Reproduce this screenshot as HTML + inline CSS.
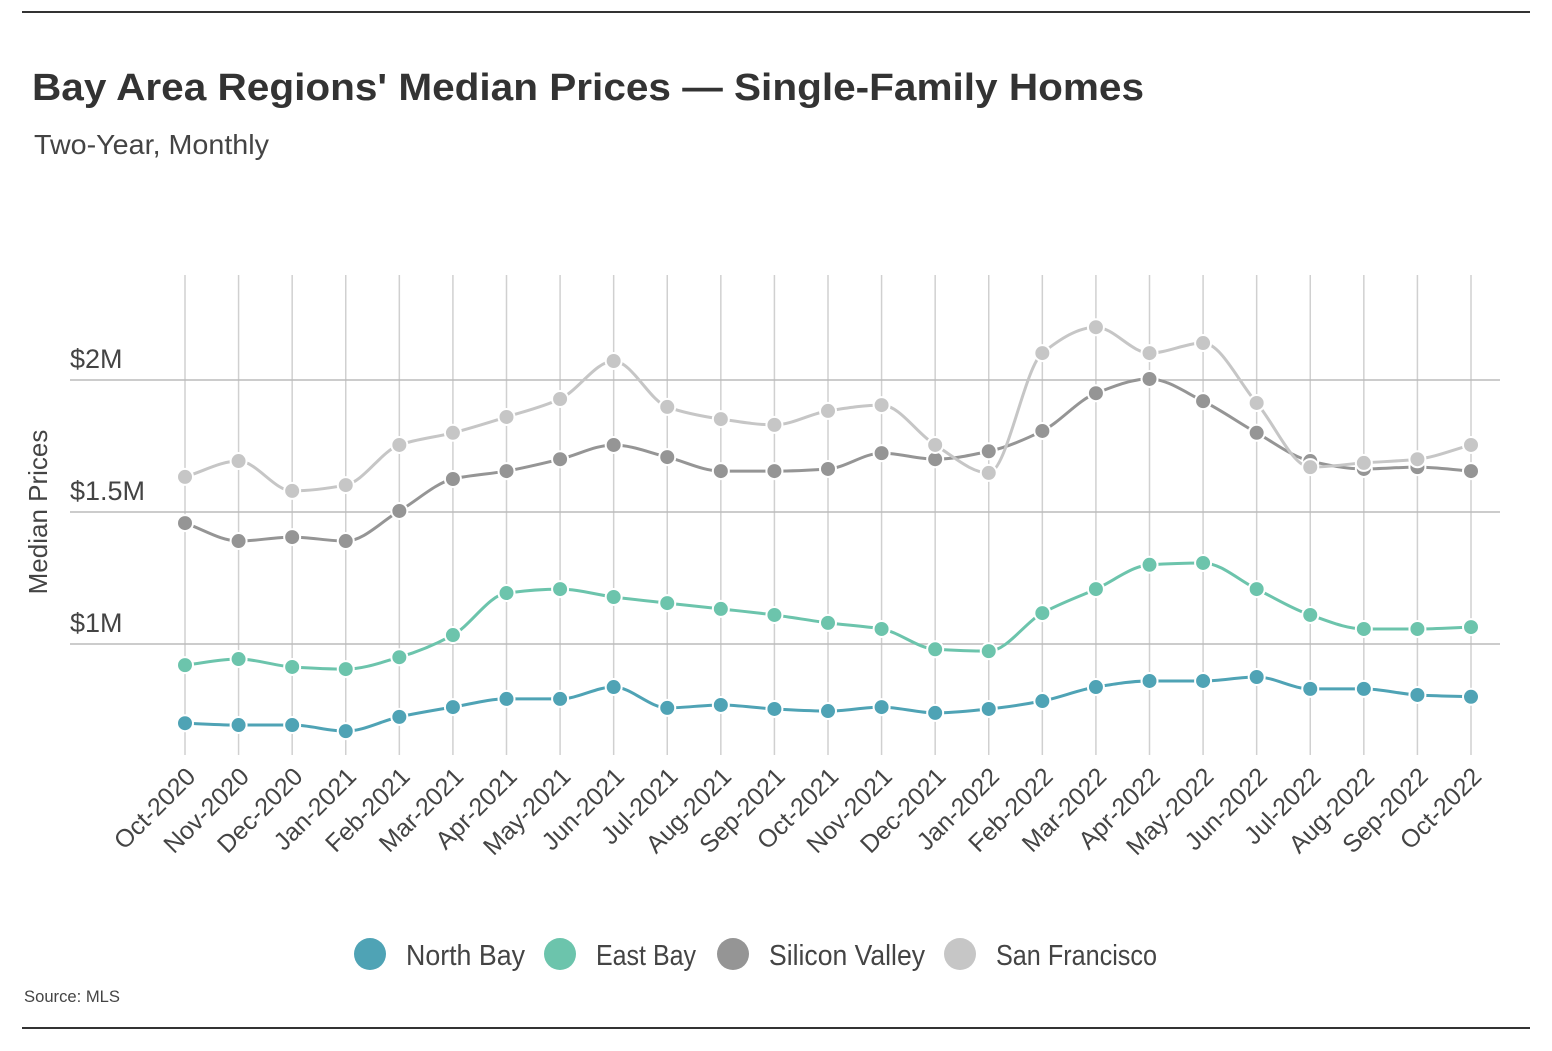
<!DOCTYPE html>
<html><head><meta charset="utf-8"><style>
body{margin:0;background:#fff;width:1552px;height:1046px;overflow:hidden;font-family:"Liberation Sans",sans-serif;}
svg text{font-family:"Liberation Sans",sans-serif;}
</style></head><body>
<svg id="chart" width="1552" height="1046" xmlns="http://www.w3.org/2000/svg">
<line x1="22" y1="12" x2="1530" y2="12" stroke="#333" stroke-width="2"/>
<line x1="22" y1="1028" x2="1530" y2="1028" stroke="#333" stroke-width="2"/>
<text x="32" y="100" font-size="38" font-weight="bold" fill="#333" textLength="1112" lengthAdjust="spacingAndGlyphs">Bay Area Regions' Median Prices — Single-Family Homes</text>
<text x="34" y="154" font-size="28" fill="#444" textLength="235" lengthAdjust="spacingAndGlyphs">Two-Year, Monthly</text>
<text transform="translate(47,512) rotate(-90)" text-anchor="middle" font-size="26" fill="#444">Median Prices</text>
<text x="24" y="1002" font-size="17" fill="#444" textLength="96" lengthAdjust="spacingAndGlyphs">Source:  MLS</text>
<g id="grid"></g><g id="series"></g><g id="legend"></g>
</svg>
<script>
const months=["Oct-2020","Nov-2020","Dec-2020","Jan-2021","Feb-2021","Mar-2021","Apr-2021","May-2021","Jun-2021","Jul-2021","Aug-2021","Sep-2021","Oct-2021","Nov-2021","Dec-2021","Jan-2022","Feb-2022","Mar-2022","Apr-2022","May-2022","Jun-2022","Jul-2022","Aug-2022","Sep-2022","Oct-2022"];
const northBay=[0.70,0.693,0.693,0.67,0.724,0.761,0.792,0.792,0.837,0.758,0.769,0.754,0.746,0.761,0.739,0.754,0.784,0.837,0.86,0.86,0.875,0.83,0.83,0.807,0.80];
const eastBay=[0.92,0.943,0.913,0.905,0.95,1.034,1.193,1.208,1.178,1.155,1.133,1.11,1.08,1.057,0.98,0.973,1.117,1.208,1.30,1.307,1.208,1.11,1.057,1.057,1.064];
const siliconValley=[1.458,1.39,1.405,1.39,1.504,1.625,1.655,1.70,1.754,1.708,1.655,1.655,1.663,1.723,1.70,1.73,1.807,1.95,2.004,1.92,1.80,1.693,1.663,1.67,1.655];
const sanFrancisco=[1.633,1.693,1.58,1.602,1.754,1.80,1.86,1.928,2.072,1.898,1.852,1.83,1.883,1.905,1.754,1.648,2.102,2.20,2.102,2.14,1.913,1.67,1.686,1.70,1.754];
const yTicks=[1,1.5,2];
const yTickLabels=["$1M","$1.5M","$2M"];
const seriesNames=["North Bay","East Bay","Silicon Valley","San Francisco"];
const seriesColors=["#4fa3b5","#6cc4ac","#959595","#c6c6c6"];
const NS="http://www.w3.org/2000/svg";
const xs=i=>185+i*(1471-185)/(months.length-1);
const ys=v=>644-(v-1)*264;
function mk(tag,attrs,parent,txt){const e=document.createElementNS(NS,tag);for(const k in attrs)e.setAttribute(k,attrs[k]);if(txt!==undefined)e.textContent=txt;parent.appendChild(e);return e;}
const grid=document.getElementById('grid');
months.forEach((m,i)=>{
 const l=mk('line',{x1:xs(i),x2:xs(i),y1:275,y2:755,stroke:'#d0d0d0','stroke-width':1.5},grid);
 
 
 const t=mk('text',{transform:`translate(${xs(i)+12},${778}) rotate(-45)`,'text-anchor':'end','font-size':25,fill:'#444'},grid,m);
 
 
});
yTicks.forEach((v,i)=>{
 const l=mk('line',{x1:70,x2:1500,y1:ys(v),y2:ys(v),stroke:'#bbb','stroke-width':1.5},grid);
 
 
 const t=mk('text',{x:70,y:ys(v)-12,'font-size':27,fill:'#444'},grid,yTickLabels[i]);
 
 
});
function monotonePath(pts){
 const n=pts.length,d=[],m=[];
 for(let i=0;i<n-1;i++)d.push((pts[i+1][1]-pts[i][1])/(pts[i+1][0]-pts[i][0]));
 m[0]=d[0];m[n-1]=d[n-2];
 for(let i=1;i<n-1;i++){m[i]=(d[i-1]*d[i]<=0)?0:2/(1/d[i-1]+1/d[i]);}
 let p=`M${pts[0][0]},${pts[0][1]}`;
 for(let i=0;i<n-1;i++){const h=(pts[i+1][0]-pts[i][0])/3;
  p+=`C${pts[i][0]+h},${pts[i][1]+m[i]*h} ${pts[i+1][0]-h},${pts[i+1][1]-m[i+1]*h} ${pts[i+1][0]},${pts[i+1][1]}`;}
 return p;
}
const sg=document.getElementById('series');
[northBay,eastBay,siliconValley,sanFrancisco].forEach((arr,si)=>{
 const pts=arr.map((v,i)=>[xs(i),ys(v)]);
 const slug=seriesNames[si].toLowerCase().replace(/ /g,'-');
 const path=mk('path',{d:monotonePath(pts),fill:'none',stroke:seriesColors[si],'stroke-width':3},sg);
 
 
 pts.forEach(p=>{
  const c=mk('circle',{cx:p[0],cy:p[1],r:8,fill:seriesColors[si],stroke:'#fff','stroke-width':2},sg);
  
  
 });
});
const lg=document.getElementById('legend');
const lx=[370,560,733,960];
const lw=[119,100,156,161];
seriesNames.forEach((n,i)=>{
 const c=mk('circle',{cx:lx[i],cy:954,r:16,fill:seriesColors[i]},lg);
 
 
 const t=mk('text',{x:lx[i]+36,y:965,'font-size':29,fill:'#444',textLength:lw[i],lengthAdjust:'spacingAndGlyphs'},lg,n);
 
 
});
</script>
</body></html>
